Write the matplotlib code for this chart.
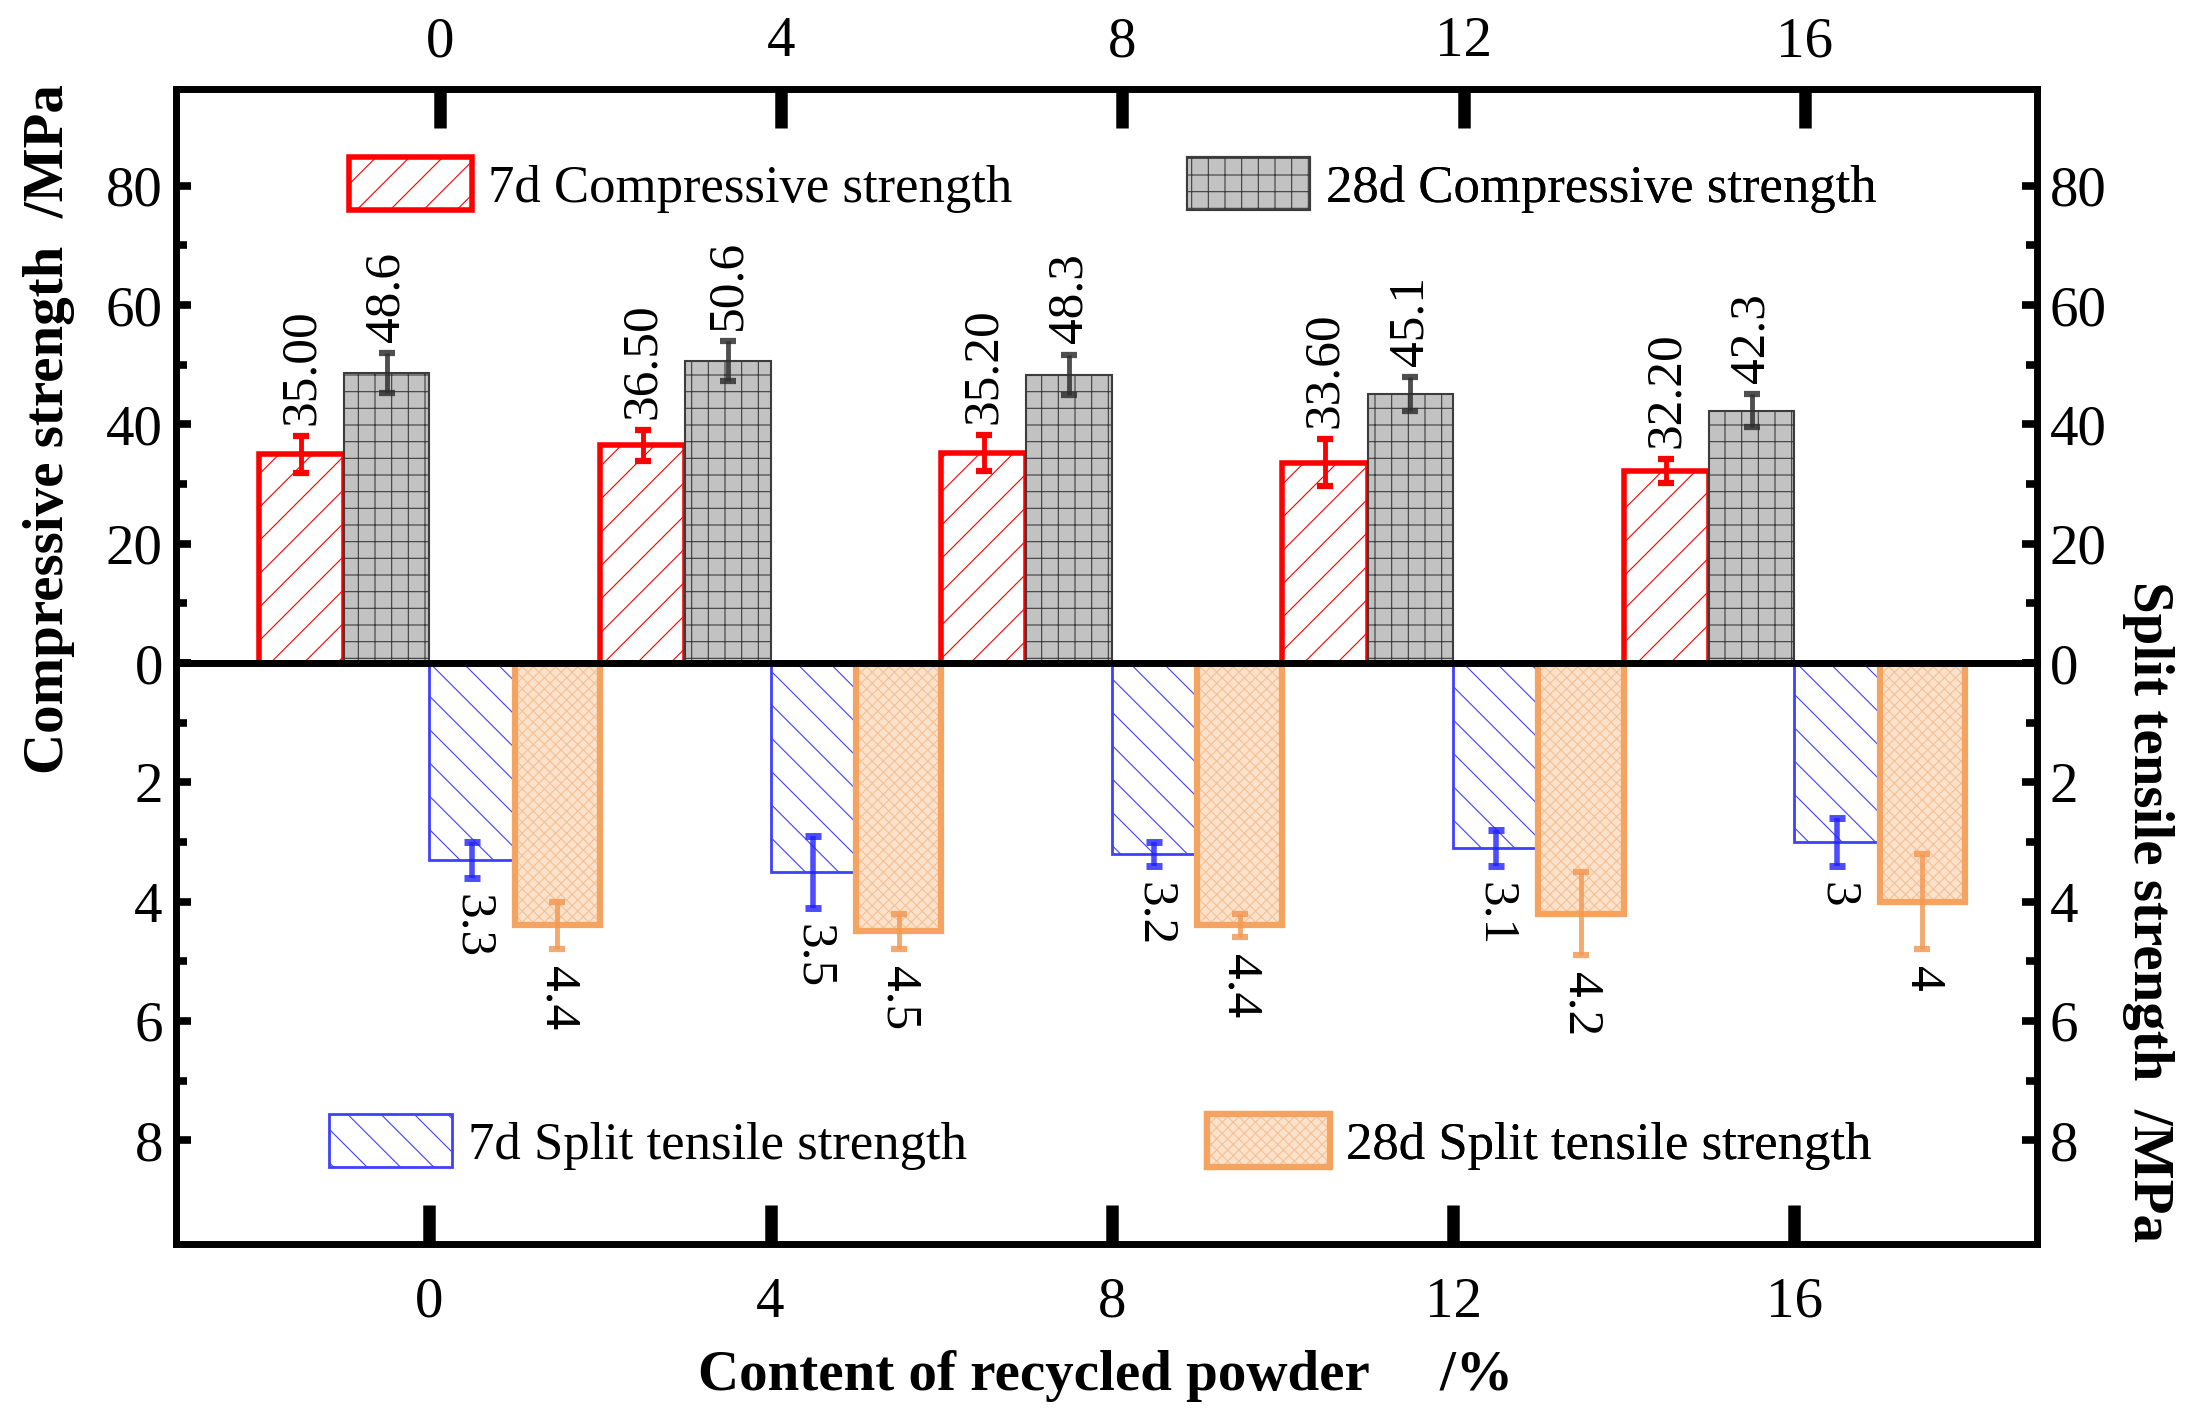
import matplotlib
matplotlib.use('Agg')
import matplotlib.pyplot as plt
import numpy as np
from matplotlib.ticker import FixedLocator
from matplotlib.legend_handler import HandlerTuple

plt.rcParams['font.family'] = ['Liberation Serif', 'DejaVu Serif']
plt.rcParams['hatch.linewidth'] = 0.8

# ---------------- data ----------------
content = [0, 4, 8, 12, 16]
comp_7d = [35.00, 36.50, 35.20, 33.60, 32.20]
comp_7d_err = [3.1, 2.6, 3.0, 4.0, 2.0]
comp_28d = [48.6, 50.6, 48.3, 45.1, 42.3]
comp_28d_err = [3.3, 3.4, 3.4, 2.8, 2.8]
split_7d = [3.3, 3.5, 3.2, 3.1, 3.0]
split_7d_err = [0.3, 0.6, 0.2, 0.3, 0.4]
split_28d = [4.4, 4.5, 4.4, 4.2, 4.0]
split_28d_err = [0.4, 0.3, 0.2, 0.7, 0.8]
comp_ticks = [0, 20, 40, 60, 80]
split_ticks = [0, 2, 4, 6, 8]

W, H = 2201, 1428
fig = plt.figure(figsize=(W / 100, H / 100), dpi=100)
L, R = 176 / W, 2036.5 / W
T, M, B = 1 - 88.5 / H, 1 - 663 / H, 1 - 1244 / H
ax_t = fig.add_axes([L, M, R - L, T - M])
ax_b = fig.add_axes([L, B, R - L, M - B])

x = np.array(content, dtype=float)
w = 1.0
RED = '#ff0000'
GRAY = '#3c3c3c'
BLUE = '#4040ff'
ORANGE = '#f4a460'

b_c7 = ax_t.bar(x - 1.5, comp_7d, w, facecolor='white', edgecolor=RED,
                linewidth=4, hatch='/', zorder=2)
b_c28 = ax_t.bar(x - 0.5, comp_28d, w, facecolor='#c2c2c2', edgecolor=GRAY,
                 linewidth=1.5, hatch='+', zorder=2)
b_s7 = ax_b.bar(x + 0.5, split_7d, w, facecolor='white', edgecolor=BLUE,
                linewidth=2, hatch='\\', zorder=2)
b_s28f = ax_b.bar(x + 1.5, split_28d, w, facecolor='#fce2cb', edgecolor='#f4c095',
                  linewidth=0, hatch='xxx', zorder=2)
b_s28e = ax_b.bar(x + 1.5, split_28d, w, facecolor='none', edgecolor=ORANGE,
                  linewidth=4.5, zorder=3)

eb = dict(fmt='none', capsize=6, zorder=5)
ax_t.errorbar(x - 1.5, comp_7d, yerr=comp_7d_err, ecolor=RED, elinewidth=3.5, capthick=4.5, **eb)
ax_t.errorbar(x - 0.5, comp_28d, yerr=comp_28d_err, ecolor='#303030', alpha=0.85,
              elinewidth=3.5, capthick=4.5, **eb)
ax_b.errorbar(x + 0.5, split_7d, yerr=split_7d_err, ecolor='#2020ff', alpha=0.8,
              elinewidth=4, capthick=5, **eb)
ax_b.errorbar(x + 1.5, split_28d, yerr=split_28d_err, ecolor='#f39a55', alpha=0.85,
              elinewidth=3.5, capthick=4.5, **eb)

vfs = 37
for xi, v, e in zip(x, comp_7d, comp_7d_err):
    ax_t.annotate(f'{v:.2f}', (xi - 1.5, v + e), xytext=(0, 8), textcoords='offset points',
                  rotation=90, ha='center', va='bottom', fontsize=vfs)
for xi, v, e in zip(x, comp_28d, comp_28d_err):
    ax_t.annotate(f'{v:.1f}', (xi - 0.5, v + e), xytext=(0, 8), textcoords='offset points',
                  rotation=90, ha='center', va='bottom', fontsize=vfs)
for xi, v, e in zip(x, split_7d, split_7d_err):
    ax_b.annotate(f'{v:g}', (xi + 0.5, v + e), xytext=(0, -12), textcoords='offset points',
                  rotation=270, ha='center', va='top', fontsize=vfs)
for xi, v, e in zip(x, split_28d, split_28d_err):
    ax_b.annotate(f'{v:g}', (xi + 1.5, v + e), xytext=(0, -12), textcoords='offset points',
                  rotation=270, ha='center', va='top', fontsize=vfs)

# ---------------- axes ----------------
tfs = 41
xlim = (-2.97, 18.84)
for ax in (ax_t, ax_b):
    ax.set_xlim(*xlim)
    for s in ax.spines.values():
        s.set_linewidth(5)
        s.set_zorder(6)
    ax.tick_params(axis='y', which='both', left=True, right=True, labelleft=True,
                   labelright=True, direction='in', width=5.5, labelsize=tfs, pad=9.5)
    ax.tick_params(axis='y', which='major', length=11)
    ax.tick_params(axis='y', which='minor', length=8)

ax_t.set_ylim(0, 96.3)
ax_t.yaxis.set_major_locator(FixedLocator(comp_ticks))
ax_t.yaxis.set_minor_locator(FixedLocator([10, 30, 50, 70]))
ax_t.set_yticklabels([str(t) for t in comp_ticks])

ax_b.set_ylim(9.74, 0)
ax_b.yaxis.set_major_locator(FixedLocator(split_ticks))
ax_b.yaxis.set_minor_locator(FixedLocator([1, 3, 5, 7]))
ax_b.set_yticklabels([''] + [str(t) for t in split_ticks[1:]])

ax_b.set_xticks(x)
ax_b.set_xticklabels([str(c) for c in content])
ax_b.tick_params(axis='x', bottom=True, top=False, labelbottom=True, direction='in',
                 length=28, width=9, labelsize=tfs, pad=23.5)

top_shift = 0.123
ax_t.set_xticks(x + top_shift)
ax_t.set_xticklabels([str(c) for c in content])
ax_t.tick_params(axis='x', bottom=False, top=True, labelbottom=False, labeltop=True,
                 direction='in', length=28, width=9, labelsize=tfs, pad=14.5)

# ---------------- legends ----------------
lfs = 38
def add_leg(ax, handle, label, xpix, ypix):
    leg = ax.legend([handle], [label], loc='center left',
                    bbox_to_anchor=(xpix / W, 1 - ypix / H), bbox_transform=fig.transFigure,
                    frameon=False, borderpad=0, borderaxespad=0, handlelength=2.33,
                    handleheight=1.155, handletextpad=0.3, fontsize=lfs,
                    handler_map={tuple: HandlerTuple(ndivide=1, pad=0)})
    ax.add_artist(leg)

add_leg(ax_t, b_c7, '7d Compressive strength', 349, 185)
add_leg(ax_t, b_c28, '28d Compressive strength', 1187, 185)
add_leg(ax_b, b_s7, '7d Split tensile strength', 329, 1142)
add_leg(ax_b, (b_s28f, b_s28e), '28d Split tensile strength', 1207, 1142)

# ---------------- axis titles ----------------
afs = 41
fig.text(49 / W, 1 - 429 / H, 'Compressive strength  /MPa', rotation=90, ha='center',
         va='center', fontsize=afs, fontweight='bold')
fig.text(2148 / W, 1 - 912 / H, 'Split tensile strength  /MPa', rotation=270, ha='center',
         va='center', fontsize=afs, fontweight='bold')
fig.text(1106 / W, 1 - 1376 / H, 'Content of recycled powder     /%', ha='center',
         va='center', fontsize=afs, fontweight='bold')

fig.savefig('out.png', dpi=100)
